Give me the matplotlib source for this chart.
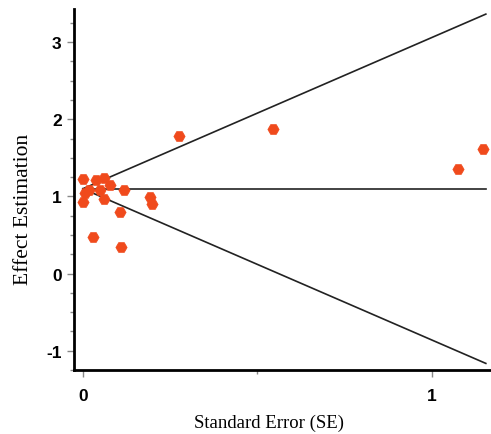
import matplotlib
matplotlib.use("Agg")
import matplotlib.pyplot as plt
import numpy as np
from matplotlib.ticker import MultipleLocator

plt.rcParams["axes.unicode_minus"] = False

se = [0.0, 0.037, 0.062, 0.078, 0.05, 0.017, 0.006, 0.0, 0.062, 0.118, 0.107,
      0.03, 0.109, 0.193, 0.198, 0.276, 0.546, 1.075, 1.147]
effect = [1.23, 1.22, 1.24, 1.15, 1.09, 1.09, 1.05, 0.93, 0.97, 1.08, 0.80,
          0.48, 0.34, 0.99, 0.90, 1.79, 1.87, 1.36, 1.61]
pooled = 1.10
se_max = 1.155

fig = plt.figure(figsize=(4.91, 4.35), dpi=100)
ax = fig.add_axes([0.151, 0.147, 0.847, 0.830])

xs = np.array([0.0, se_max])
ax.plot(xs, pooled + 1.96 * xs, color="#222222", lw=1.2)
ax.plot(xs, pooled - 1.96 * xs, color="#222222", lw=1.2)
ax.plot(xs, [pooled, pooled], color="#222222", lw=1.2)

ax.scatter(se, effect, marker="H", s=66, color="#F04A1C", edgecolors="#F04A1C",
           linewidths=0.5, zorder=3)

ax.set_xlim(-0.025, 1.167)
ax.set_ylim(-1.25, 3.43)
ax.xaxis.set_major_locator(MultipleLocator(1))
ax.xaxis.set_minor_locator(MultipleLocator(0.5))
ax.yaxis.set_major_locator(MultipleLocator(1))
ax.yaxis.set_minor_locator(MultipleLocator(0.25))

for s in ["top", "right"]:
    ax.spines[s].set_visible(False)
for s in ["left", "bottom"]:
    ax.spines[s].set_linewidth(2.0)

ax.tick_params(which="major", length=5, width=1, color="#888888", pad=4)
ax.tick_params(which="minor", length=3, width=1, color="#888888")
ax.tick_params(axis="x", which="major", pad=8)
for lab in ax.get_xticklabels() + ax.get_yticklabels():
    lab.set_fontfamily("Liberation Sans")
    lab.set_fontweight("bold")
    lab.set_fontsize(12.5)

ax.set_xlabel("Standard Error (SE)", fontfamily="Liberation Serif", fontsize=13.5)
ax.set_ylabel("Effect Estimation", fontfamily="Liberation Serif", fontsize=15.5)
ax.xaxis.set_label_coords(0.469, -0.122)
ax.yaxis.set_label_coords(-0.099, 0.447)

fig.savefig("out.png", dpi=100)
